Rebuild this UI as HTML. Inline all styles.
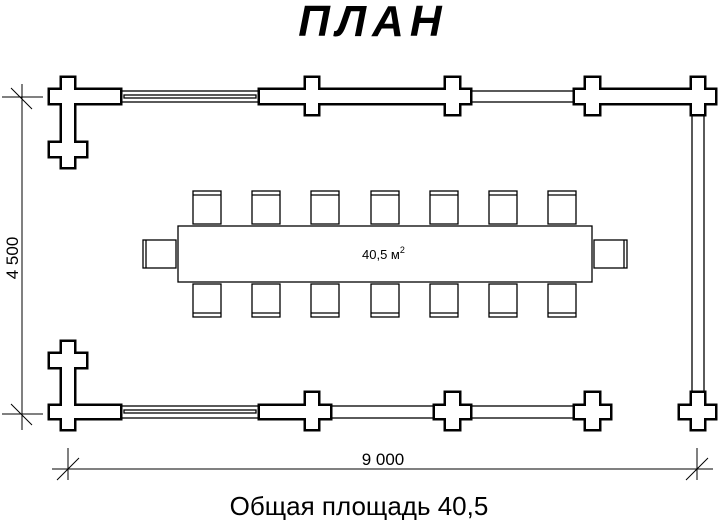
<!DOCTYPE html>
<html><head><meta charset="utf-8"><style>
html,body{margin:0;padding:0;background:#fff;width:718px;height:520px;overflow:hidden}
svg{display:block}
</style></head><body>
<svg width="718" height="520" viewBox="0 0 718 520" xmlns="http://www.w3.org/2000/svg" font-family="Liberation Sans, sans-serif">
<text x="373" y="36" text-anchor="middle" font-size="44" font-weight="bold" font-style="italic" letter-spacing="6">ПЛАН</text>

<g fill="#fff" stroke="#000" stroke-width="1.3">
  <rect x="120" y="91" width="140" height="11"/>
  <rect x="124" y="95" width="132" height="3"/>
  <rect x="470" y="91" width="105" height="11"/>
  <rect x="692" y="110" width="12" height="286"/>
  <rect x="120" y="406" width="140" height="12"/>
  <rect x="124" y="410" width="132" height="3"/>
  <rect x="330" y="406" width="105" height="12"/>
  <rect x="470" y="406" width="105" height="12"/>
</g>

<g stroke="#000" stroke-width="5" fill="#000">
  <rect x="50" y="90" width="70" height="13"/>
  <rect x="62" y="78" width="12" height="89"/>
  <rect x="50" y="143" width="36" height="13"/>
  <rect x="260" y="90" width="210" height="13"/>
  <rect x="306" y="78" width="12" height="36"/>
  <rect x="446" y="78" width="13" height="36"/>
  <rect x="575" y="90" width="140" height="13"/>
  <rect x="586" y="78" width="13" height="36"/>
  <rect x="692" y="78" width="12" height="36"/>
  <rect x="62" y="342" width="12" height="87"/>
  <rect x="50" y="354" width="36" height="13"/>
  <rect x="50" y="406" width="70" height="12"/>
  <rect x="260" y="406" width="70" height="12"/>
  <rect x="306" y="393" width="12" height="36"/>
  <rect x="446" y="393" width="13" height="36"/>
  <rect x="435" y="406" width="35" height="12"/>
  <rect x="586" y="393" width="13" height="36"/>
  <rect x="575" y="406" width="35" height="12"/>
  <rect x="692" y="393" width="12" height="36"/>
  <rect x="680" y="406" width="35" height="12"/>
</g>
<g fill="#fff">
  <rect x="50" y="90" width="70" height="13"/>
  <rect x="62" y="78" width="12" height="89"/>
  <rect x="50" y="143" width="36" height="13"/>
  <rect x="260" y="90" width="210" height="13"/>
  <rect x="306" y="78" width="12" height="36"/>
  <rect x="446" y="78" width="13" height="36"/>
  <rect x="575" y="90" width="140" height="13"/>
  <rect x="586" y="78" width="13" height="36"/>
  <rect x="692" y="78" width="12" height="36"/>
  <rect x="62" y="342" width="12" height="87"/>
  <rect x="50" y="354" width="36" height="13"/>
  <rect x="50" y="406" width="70" height="12"/>
  <rect x="260" y="406" width="70" height="12"/>
  <rect x="306" y="393" width="12" height="36"/>
  <rect x="446" y="393" width="13" height="36"/>
  <rect x="435" y="406" width="35" height="12"/>
  <rect x="586" y="393" width="13" height="36"/>
  <rect x="575" y="406" width="35" height="12"/>
  <rect x="692" y="393" width="12" height="36"/>
  <rect x="680" y="406" width="35" height="12"/>
</g>

<g fill="#fff" stroke="#000" stroke-width="1.3">
  <rect x="178" y="226" width="414" height="56"/>
  <g id="tc">
    <rect x="193" y="191" width="28" height="33"/><line x1="193" y1="195" x2="221" y2="195"/>
    <rect x="193" y="284" width="28" height="33"/><line x1="193" y1="313" x2="221" y2="313"/>
  </g>
  <use href="#tc" x="59"/>
  <use href="#tc" x="118"/>
  <use href="#tc" x="178"/>
  <use href="#tc" x="237"/>
  <use href="#tc" x="296"/>
  <use href="#tc" x="355"/>
  <rect x="143" y="240" width="33" height="28"/><line x1="146" y1="240" x2="146" y2="268"/>
  <rect x="594" y="240" width="33" height="28"/><line x1="624" y1="240" x2="624" y2="268"/>
</g>
<text x="362" y="259" font-size="13">40,5 м<tspan font-size="9" dy="-6">2</tspan></text>

<g stroke="#000" stroke-width="1">
  <line x1="22" y1="84" x2="22" y2="430"/>
  <line x1="2" y1="97" x2="43" y2="97"/>
  <line x1="11" y1="88" x2="32" y2="109"/>
  <line x1="2" y1="414" x2="43" y2="414"/>
  <line x1="11" y1="404" x2="32" y2="425"/>
  <line x1="52" y1="469" x2="713" y2="469"/>
  <line x1="68" y1="448" x2="68" y2="480"/>
  <line x1="57" y1="480" x2="79" y2="458"/>
  <line x1="697" y1="448" x2="697" y2="480"/>
  <line x1="686" y1="480" x2="708" y2="458"/>
</g>
<text x="383" y="465" text-anchor="middle" font-size="17">9 000</text>
<text transform="translate(18,258) rotate(-90)" text-anchor="middle" font-size="17">4 500</text>

<text x="359" y="515" text-anchor="middle" font-size="26">Общая площадь 40,5</text>
</svg>
</body></html>
